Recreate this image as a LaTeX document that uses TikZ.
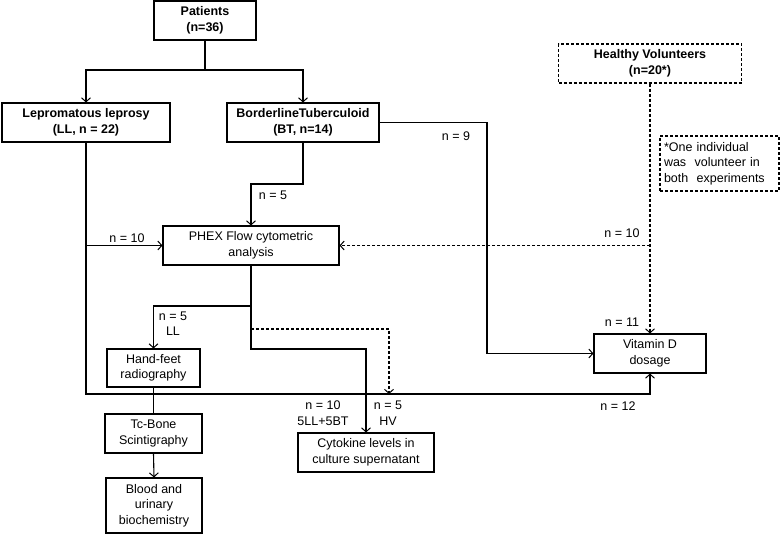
\documentclass[tikz,border=0pt]{standalone}
\usepackage{fontspec}
\setmainfont{Liberation Sans}
\usetikzlibrary{arrows.meta}
\begin{document}
\begin{tikzpicture}[x=1pt,y=-1pt,
  box/.style={draw,line width=1.1pt,align=center,inner sep=0pt,font=\fontsize{12.5}{15.5}\selectfont},
  dbox/.style={box,dashed,dash pattern=on 3pt off 2pt},
  lbl/.style={align=center,inner sep=0pt,font=\fontsize{12.5}{15.5}\selectfont},
  arr/.style={line width=1.1pt,-{Straight Barb[length=4pt,width=9pt,line width=1pt]}},
  ln/.style={line width=1.1pt},
  darr/.style={arr,dash pattern=on 3pt off 2pt},
  dln/.style={ln,dash pattern=on 3pt off 2pt}]
\useasboundingbox (0,0) rectangle (780,534);
% nodes
\node[box,font=\bfseries\fontsize{12.5}{15.5}\selectfont,minimum width=102pt,minimum height=39pt] (pat) at (205,20.5) {Patients\\(n=36)};
\node[box,font=\bfseries\fontsize{12.5}{15.5}\selectfont,minimum width=168pt,minimum height=39pt] (ll) at (86,122.5) {Lepromatous leprosy\\(LL, n = 22)};
\node[box,font=\bfseries\fontsize{12.5}{15.5}\selectfont,minimum width=152pt,minimum height=39pt] (bt) at (303,122.5) {BorderlineTuberculoid\\(BT, n=14)};
\node[dbox,font=\bfseries\fontsize{12.5}{15.5}\selectfont,minimum width=183pt,minimum height=39pt] (hv) at (650,63.5) {Healthy Volunteers\\(n=20*)};
\node[dbox,align=left,minimum width=119pt,minimum height=55pt,text width=111pt] (note) at (719.5,163.5) {*One individual\\was\ \ volunteer in\\both\ \ experiments};
\node[box,minimum width=176pt,minimum height=39pt] (phex) at (251,245.5) {PHEX Flow cytometric\\analysis};
\node[box,minimum width=112pt,minimum height=39pt] (vit) at (650,353.5) {Vitamin D\\dosage};
\node[box,minimum width=93pt,minimum height=38pt] (hand) at (153.5,368) {Hand-feet\\radiography};
\node[box,minimum width=97pt,minimum height=39pt] (tc) at (153.5,433.5) {Tc-Bone\\Scintigraphy};
\node[box,minimum width=96pt,minimum height=55pt] (blood) at (154,505.5) {Blood and\\urinary\\biochemistry};
\node[box,minimum width=136pt,minimum height=39pt] (cyto) at (366,452.5) {Cytokine levels in\\culture supernatant};
% coordinates
\coordinate (j1) at (205,70);
\coordinate (j2) at (303,184);
\coordinate (j3) at (251,306);
\coordinate (j4) at (251,349);
\coordinate (j5) at (251,329);
\coordinate (j6) at (389,394);
\coordinate (bl) at (86,394);
\coordinate (jb) at (487,122.5);
% connectors
\draw[ln] (pat.south) -- (j1);
\draw[arr] (j1) -| (ll.north);
\draw[arr] (j1) -| (bt.north);
\draw[arr] (bt.east) -- (jb) |- (vit.west);
\draw[arr] (bt.south) -- (j2) -| (phex.north);
\draw[arr] (ll.south) -- (bl) -| (vit.south);
\draw[arr] (ll.south |- phex.west) -- (phex.west);
\draw[darr] (hv.south) -- (vit.north);
\draw[darr] (hv.south |- phex.east) -- (phex.east);
\draw[arr] (phex.south) -- (j4) -| (cyto.north);
\draw[arr] (j3) -| (hand.north);
\draw[darr] (j5) -| (j6);
\draw[ln] (hand.south) -- (tc.north);
\draw[arr] (tc.south) -- (blood.north);
% labels
\node[lbl] (l9) at (456,136) {n = 9};
\node[lbl] (l5a) at (273,195) {n = 5};
\node[lbl] (l10a) at (127,238) {n = 10};
\node[lbl] (l10b) at (622,233) {n = 10};
\node[lbl] (l11) at (622,322) {n = 11};
\node[lbl] (l12) at (618,406) {n = 12};
\node[lbl] (l5b) at (173,323.5) {n = 5\\LL};
\node[lbl] (l10c) at (323,413) {n = 10\\5LL+5BT};
\node[lbl] (l5c) at (388,413) {n = 5\\HV};
\end{tikzpicture}
\end{document}
